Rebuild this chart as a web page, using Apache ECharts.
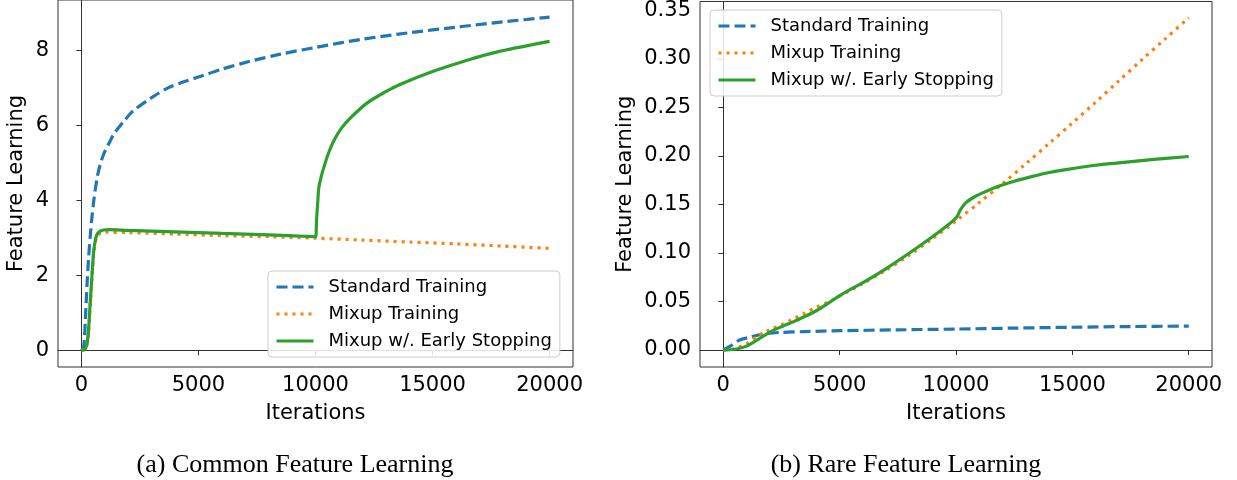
<!DOCTYPE html>
<html>
<head>
<meta charset="utf-8">
<script src="https://cdn.jsdelivr.net/npm/echarts@6/dist/echarts.min.js"></script>
<style>
html,body{margin:0;padding:0;background:#fff;}
#chart{width:1237px;height:480px;}
</style>
</head>
<body>
<div id="chart"></div>
<script>
// ---- Data: (a) Common Feature Learning ----
const commonStdIter = [0,100,170,240,300,385,450,530,670,800,950,1200,1400,1800,2200,3000,3700,4400,5100,6000,7200,8500,10000,12000,14000,16000,18000,20000];
const commonStdVal  = [0,0.1,0.85,1.75,2.4,3.1,3.55,4.0,4.6,4.95,5.23,5.55,5.78,6.1,6.38,6.74,7.0,7.17,7.31,7.5,7.71,7.9,8.08,8.3,8.47,8.62,8.76,8.89];

const commonMixIter = [0,150,240,300,356,410,456,527,600,670,800,1000,2000,4000,6000,8000,10000,12000,14000,16000,18000,20000];
const commonMixVal  = [0,0.02,0.15,0.45,1.0,1.55,2.0,2.6,2.9,3.05,3.12,3.15,3.14,3.1,3.06,3.03,2.99,2.94,2.89,2.84,2.78,2.72];

const commonEarlyIter = [0,150,240,300,356,410,456,527,600,670,800,954,1200,2000,4000,6000,8000,10000,10043,10100,10142,10250,10356,10550,10783,11100,11496,12210,13000,13634,15059,16483,17908,20000];
const commonEarlyVal  = [0,0.03,0.18,0.5,1.06,1.6,2.04,2.66,2.95,3.1,3.18,3.21,3.22,3.2,3.16,3.12,3.08,3.03,3.46,3.99,4.34,4.65,4.88,5.25,5.59,5.92,6.2,6.6,6.9,7.1,7.45,7.74,7.98,8.24];

// ---- Data: (b) Rare Feature Learning ----
const rareStdIter = [0,300,700,1100,1500,1900,2500,3500,5000,7500,10000,12500,15000,17500,20000];
const rareStdVal  = [0,0.004,0.0103,0.013,0.0155,0.0172,0.0182,0.019,0.0199,0.0208,0.0216,0.0226,0.0235,0.0242,0.0247];

const rareMixIter = [0,500,1000,1500,2000,2500,3000,3500,4000,4500,5000,6000,7000,8000,9000,10000,11000,12000,13000,14000,15000,16000,17000,18000,19000,20000];
const rareMixVal  = [0,0.0015,0.0065,0.015,0.021,0.026,0.032,0.038,0.044,0.0495,0.0555,0.0685,0.0825,0.098,0.115,0.133,0.152,0.1715,0.192,0.213,0.234,0.2555,0.2775,0.2995,0.321,0.3425];

const rareEarlyIter = [0,500,1000,1500,2000,2500,3000,3500,4000,4500,5000,5500,6000,7000,8000,9000,10000,10200,10429,10800,11143,11857,12500,13286,14000,14714,16000,17000,18500,20000];
const rareEarlyVal  = [0,0.0008,0.004,0.011,0.0185,0.024,0.029,0.0345,0.0405,0.048,0.056,0.063,0.0695,0.084,0.1,0.117,0.136,0.145,0.152,0.158,0.162,0.169,0.174,0.179,0.183,0.186,0.1905,0.193,0.1965,0.1995];

// ---- Ticks ----
const xTicks = [0,5000,10000,15000,20000];
const commonYTicks = [0,2,4,6,8];
const rareYTicks = [0,0.05,0.1,0.15,0.2,0.25,0.3,0.35];

const names = ['Standard Training','Mixup Training','Mixup w/. Early Stopping'];
const captions = ['(a) Common Feature Learning','(b) Rare Feature Learning'];

const zip = (a,b) => a.map((v,i) => [v,b[i]]);
const FONT = 'DejaVu Sans';
const AX = '#333';

function xAxisCfg(gi){
  return {
    type:'value', gridIndex:gi, min:-1000, max:21000,
    axisLine:{show:true, lineStyle:{color:AX, width:1}},
    axisTick:{show:true, customValues:xTicks, length:5, lineStyle:{color:AX, width:1}},
    axisLabel:{customValues:xTicks, fontSize:21, color:'#000', fontFamily:FONT, margin:8, formatter:v => String(v)},
    splitLine:{show:false},
    name:'Iterations', nameLocation:'middle', nameGap:36,
    nameTextStyle:{fontSize:21, color:'#000', fontFamily:FONT}
  };
}
function yAxisCfg(gi, min, max, ticks, fmt, gap){
  return {
    type:'value', gridIndex:gi, min:min, max:max,
    axisLine:{show:true, lineStyle:{color:AX, width:1}},
    axisTick:{show:true, customValues:ticks, length:5, lineStyle:{color:AX, width:1}},
    axisLabel:{customValues:ticks, fontSize:21, color:'#000', fontFamily:FONT, margin:9, formatter:fmt},
    splitLine:{show:false},
    name:'Feature Learning', nameLocation:'middle', nameGap:gap,
    nameTextStyle:{fontSize:21, color:'#000', fontFamily:FONT}
  };
}
const styles = [
  {color:'#1f77b4', type:[11,5]},
  {color:'#ff7f0e', type:[3,5]},
  {color:'#2ca02c', type:'solid'}
];
function mk(name, gi, data, st){
  return {
    name:name, type:'line', xAxisIndex:gi, yAxisIndex:gi, data:data,
    symbol:'none', smooth:0.3, animation:false,
    itemStyle:{color:st.color},
    lineStyle:{color:st.color, width:3.2, type:st.type}
  };
}
function legendCfg(left, top){
  return {
    orient:'vertical', left:left, top:top, data:names,
    itemWidth:37, itemHeight:14, itemGap:9, padding:[7,8,7,7],
    backgroundColor:'rgba(255,255,255,0.85)', borderColor:'#ccc', borderWidth:1, borderRadius:4,
    itemStyle:{opacity:0, borderWidth:0},
    lineStyle:{width:3},
    textStyle:{fontSize:18, color:'#000', fontFamily:FONT, padding:[0,0,0,10]},
    selectedMode:false
  };
}

const chart = echarts.init(document.getElementById('chart'), null, {renderer:'canvas'});
chart.setOption({
  backgroundColor:'#fff',
  animation:false,
  grid:[
    {left:58, right:664, top:-1, bottom:113, show:true, borderColor:AX, borderWidth:1, backgroundColor:'transparent'},
    {left:700, right:25, top:1, bottom:113, show:true, borderColor:AX, borderWidth:1, backgroundColor:'transparent'}
  ],
  xAxis:[xAxisCfg(0), xAxisCfg(1)],
  yAxis:[
    yAxisCfg(0, -0.445, 9.345, commonYTicks, v => String(v), 31),
    yAxisCfg(1, -0.0175, 0.3593, rareYTicks, v => v.toFixed(2), 64)
  ],
  legend:[legendCfg(268,271), legendCfg(710,10)],
  series:[
    mk(names[0],0,zip(commonStdIter,commonStdVal),styles[0]),
    mk(names[1],0,zip(commonMixIter,commonMixVal),styles[1]),
    mk(names[2],0,zip(commonEarlyIter,commonEarlyVal),styles[2]),
    mk(names[0],1,zip(rareStdIter,rareStdVal),styles[0]),
    mk(names[1],1,zip(rareMixIter,rareMixVal),styles[1]),
    mk(names[2],1,zip(rareEarlyIter,rareEarlyVal),styles[2])
  ],
  graphic:[
    {type:'text', x:295, y:465, style:{text:captions[0], font:'26px "Liberation Serif", serif', fill:'#000', align:'center', verticalAlign:'middle'}},
    {type:'text', x:906, y:465, style:{text:captions[1], font:'26px "Liberation Serif", serif', fill:'#000', align:'center', verticalAlign:'middle'}}
  ]
});
</script>
</body>
</html>
